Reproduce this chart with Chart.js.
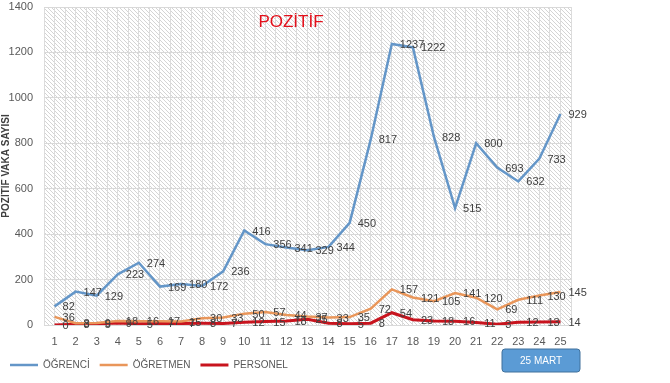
<!DOCTYPE html>
<html><head><meta charset="utf-8">
<script src="https://cdn.jsdelivr.net/npm/chart.js@4/dist/chart.umd.min.js"></script>
<style>html,body{margin:0;padding:0;background:#fff}#wrap{width:670px;height:383px}</style>
</head><body><div id="wrap"><canvas id="c" width="670" height="383"></canvas></div>
<script>
const categories = ['1','2','3','4','5','6','7','8','9','10','11','12','13','14','15','16','17','18','19','20','21','22','23','24','25'];
const ogrenci = [82,147,129,223,274,169,180,172,236,416,356,341,329,344,450,817,1237,1222,828,515,800,693,632,733,929];
const ogretmen = [36,8,9,18,16,17,15,30,33,50,57,44,37,33,35,72,157,121,105,141,120,69,111,130,145];
const personel = [0,3,5,9,5,7,7,8,7,12,15,18,25,8,5,8,54,23,18,16,11,3,12,13,14];
const yTicks = [0,200,400,600,800,1000,1200,1400];
const titleText = 'POZİTİF';
const yTitle = 'POZİTİF VAKA SAYISI';
const buttonText = '25 MART';

function hatch(){
  const t = document.createElement('canvas'); t.width = 4; t.height = 4;
  const g = t.getContext('2d');
  g.fillStyle = '#ffffff'; g.fillRect(0,0,4,4);
  g.strokeStyle = '#d4d4d4'; g.lineWidth = 1;
  g.beginPath(); g.moveTo(-1,-1); g.lineTo(5,5); g.stroke();
  g.beginPath(); g.moveTo(-1,3); g.lineTo(1,5); g.stroke();
  g.beginPath(); g.moveTo(3,-1); g.lineTo(5,1); g.stroke();
  return t;
}

const bgPlugin = {
  id: 'bg',
  beforeDraw(chart){
    const {ctx, chartArea:a} = chart;
    ctx.save();
    ctx.fillStyle = ctx.createPattern(hatch(), 'repeat');
    ctx.fillRect(a.left, a.top, a.right - a.left, a.bottom - a.top);
    ctx.restore();
  }
};

const labelPlugin = {
  id: 'lbl',
  afterDatasetsDraw(chart){
    const ctx = chart.ctx;
    ctx.save();
    ctx.font = '11px "Liberation Sans", Arial, sans-serif';
    ctx.fillStyle = '#404040';
    ctx.textAlign = 'left';
    ctx.textBaseline = 'middle';
    chart.data.datasets.forEach((ds, i) => {
      const meta = chart.getDatasetMeta(i);
      meta.data.forEach((pt, j) => {
        ctx.fillText(String(ds.data[j]), pt.x + 8, pt.y + 1);
      });
    });
    ctx.restore();
  },
  afterDraw(chart){
    const ctx = chart.ctx;
    ctx.save();
    ctx.font = '17px "Liberation Sans", Arial, sans-serif';
    ctx.fillStyle = '#E3101B';
    ctx.textAlign = 'center';
    ctx.textBaseline = 'middle';
    ctx.fillText(titleText, 291, 22);
    const bx = 502, by = 349, bw = 78, bh = 23, r = 3;
    ctx.beginPath();
    ctx.moveTo(bx + r, by);
    ctx.arcTo(bx + bw, by, bx + bw, by + bh, r);
    ctx.arcTo(bx + bw, by + bh, bx, by + bh, r);
    ctx.arcTo(bx, by + bh, bx, by, r);
    ctx.arcTo(bx, by, bx + bw, by, r);
    ctx.closePath();
    ctx.fillStyle = '#5B9BD5';
    ctx.fill();
    ctx.strokeStyle = '#41719C';
    ctx.lineWidth = 1;
    ctx.stroke();
    ctx.fillStyle = '#ffffff';
    ctx.font = '10px "Liberation Sans", Arial, sans-serif';
    ctx.fillText(buttonText, bx + bw/2, by + bh/2 + 1);
    ctx.restore();
  }
};

new Chart(document.getElementById('c'), {
  type: 'line',
  data: {
    labels: categories,
    datasets: [
      {label: 'ÖĞRENCİ', data: ogrenci, borderColor: '#6496C8', backgroundColor: '#6496C8', borderWidth: 2.5, pointRadius: 0, tension: 0},
      {label: 'ÖĞRETMEN', data: ogretmen, borderColor: '#E9965A', backgroundColor: '#E9965A', borderWidth: 2.5, pointRadius: 0, tension: 0},
      {label: 'PERSONEL', data: personel, borderColor: '#C8141E', backgroundColor: '#A01C1E', borderWidth: 3, pointRadius: 0, tension: 0}
    ]
  },
  options: {
    responsive: false,
    animation: false,
    devicePixelRatio: 1,
    layout: {padding: {left: 0, right: 99, top: 7, bottom: 3}},
    plugins: {
      legend: {
        position: 'bottom', align: 'start',
        labels: {usePointStyle: true, pointStyle: 'line', pointStyleWidth: 28, padding: 10, color: '#595959',
          font: {size: 10, family: '"Liberation Sans", Arial, sans-serif'}}
      },
      tooltip: {enabled: false},
      title: {display: false}
    },
    scales: {
      x: {
        type: 'category', offset: true,
        grid: {display: false, drawTicks: false},
        border: {display: true, color: '#d9d9d9'},
        ticks: {color: '#595959', padding: 10, maxRotation: 0, autoSkip: false, font: {size: 11, family: '"Liberation Sans", Arial, sans-serif'}},
        afterFit(s){ s.height = 25; }
      },
      x2: {
        type: 'linear', position: 'bottom', min: 0, max: 50,
        ticks: {display: false, stepSize: 1},
        grid: {color: '#dcdcdc', drawTicks: false},
        border: {display: false},
        afterFit(s){ s.height = 0; }
      },
      y: {
        min: 0, max: 1400,
        afterBuildTicks(s){ s.ticks = yTicks.map(v => ({value: v})); },
        grid: {color: '#d9d9d9', drawTicks: false},
        border: {display: false},
        ticks: {color: '#595959', padding: 11, callback: v => String(v), font: {size: 11, family: '"Liberation Sans", Arial, sans-serif'}},
        title: {display: true, text: yTitle, color: '#404040', padding: {top: 0, bottom: 0}, font: {size: 10, weight: 'bold', family: '"Liberation Sans", Arial, sans-serif'}},
        afterFit(s){ s.width = 44; s.paddingTop = 0; s.paddingBottom = 0; }
      }
    }
  },
  plugins: [bgPlugin, labelPlugin]
});
</script></body></html>
